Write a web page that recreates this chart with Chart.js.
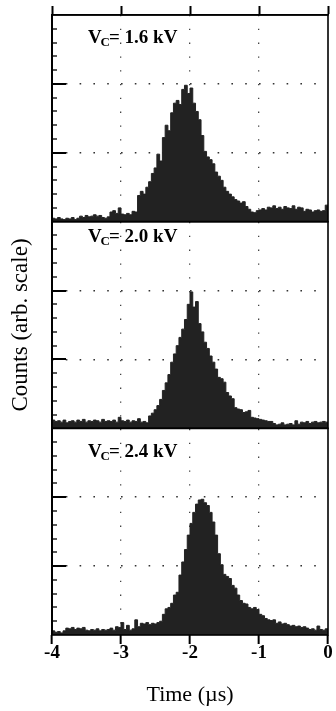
<!DOCTYPE html>
<html>
<head>
<meta charset="utf-8">
<script src="https://cdn.jsdelivr.net/npm/chart.js@4.4.0/dist/chart.umd.min.js"></script>
<style>
    html, body { margin: 0; padding: 0; background: #fff; }
    #wrap { width: 336px; height: 711px; }
</style>
</head>
<body>
<div id="wrap"><canvas id="chart" width="336" height="711"></canvas></div>
<script>
// Histogram bins: 0.04 us wide, from -4 us to 0 us
const binStart = -4;
const binWidth = 0.04;

// Counts (arb. scale), one value per bin
const counts16 = [
    0.05, 0.04, 0.06, 0.04, 0.03, 0.05, 0.04, 0.06, 0.03, 0.05,
    0.08, 0.06, 0.09, 0.07, 0.08, 0.10, 0.08, 0.09, 0.06, 0.05,
    0.07, 0.14, 0.16, 0.12, 0.20, 0.11, 0.10, 0.12, 0.10, 0.15,
    0.14, 0.38, 0.44, 0.40, 0.50, 0.58, 0.70, 0.78, 0.98, 0.88,
    1.22, 1.40, 1.32, 1.58, 1.72, 1.76, 1.70, 1.92, 1.98, 1.86,
    1.94, 1.72, 1.60, 1.48, 1.25, 1.02, 0.94, 0.90, 0.84, 0.72,
    0.66, 0.60, 0.50, 0.44, 0.40, 0.36, 0.32, 0.30, 0.27, 0.29,
    0.22, 0.18, 0.14, 0.13, 0.16, 0.17, 0.19, 0.17, 0.21, 0.20,
    0.23, 0.19, 0.21, 0.18, 0.22, 0.20, 0.19, 0.23, 0.18, 0.21,
    0.20, 0.15, 0.18, 0.17, 0.14, 0.16, 0.17, 0.15, 0.16, 0.24
];
const counts20 = [
    0.12, 0.10, 0.11, 0.09, 0.12, 0.08, 0.10, 0.11, 0.09, 0.12,
    0.10, 0.13, 0.09, 0.11, 0.10, 0.12, 0.11, 0.09, 0.13, 0.10,
    0.11, 0.10, 0.12, 0.09, 0.16, 0.11, 0.10, 0.12, 0.09, 0.11,
    0.10, 0.14, 0.09, 0.10, 0.08, 0.18, 0.22, 0.27, 0.33, 0.42,
    0.55, 0.66, 0.78, 0.96, 1.08, 1.20, 1.32, 1.44, 1.58, 1.80,
    1.98, 1.76, 1.84, 1.52, 1.40, 1.25, 1.16, 1.05, 0.96, 0.86,
    0.74, 0.72, 0.67, 0.52, 0.47, 0.43, 0.30, 0.28, 0.27, 0.23,
    0.24, 0.26, 0.16, 0.15, 0.14, 0.13, 0.12, 0.11, 0.10, 0.10,
    0.07, 0.05, 0.06, 0.08, 0.05, 0.06, 0.07, 0.05, 0.11, 0.06,
    0.09, 0.08, 0.10, 0.07, 0.09, 0.10, 0.08, 0.09, 0.10, 0.09
];
const counts24 = [
    0.06, 0.04, 0.05, 0.03, 0.06, 0.10, 0.09, 0.11, 0.08, 0.10,
    0.09, 0.11, 0.07, 0.06, 0.08, 0.07, 0.09, 0.06, 0.08, 0.07,
    0.08, 0.10, 0.07, 0.12, 0.11, 0.18, 0.08, 0.14, 0.07, 0.09,
    0.22, 0.12, 0.17, 0.16, 0.18, 0.15, 0.17, 0.16, 0.18, 0.20,
    0.30, 0.38, 0.40, 0.46, 0.58, 0.62, 0.87, 1.06, 1.24, 1.45,
    1.62, 1.78, 1.90, 1.96, 1.97, 1.92, 1.88, 1.78, 1.64, 1.45,
    1.18, 1.02, 0.88, 0.85, 0.82, 0.72, 0.68, 0.58, 0.50, 0.46,
    0.45, 0.40, 0.38, 0.40, 0.37, 0.30, 0.28, 0.24, 0.22, 0.21,
    0.22, 0.17, 0.19, 0.16, 0.17, 0.15, 0.13, 0.14, 0.12, 0.13,
    0.11, 0.12, 0.10, 0.08, 0.09, 0.07, 0.13, 0.08, 0.07, 0.09
];

// Panel labels (collector voltage) and where they sit, in data units
const voltages = ["1.6", "2.0", "2.4"];
const labelTime = -3.48;
const labelLevel = [2.59, 2.71, 2.58];

const serif = '"Liberation Serif", "Times New Roman", serif';

// top to bottom
const panels = [
    { id: "y16", values: counts16 },
    { id: "y20", values: counts20 },
    { id: "y24", values: counts24 }
];

function isMajor(v) {
    return Math.abs(v - Math.round(v)) < 1e-6;
}

// bin left edges + closing point, drawn as steps
function toSteps(values) {
    const pts = values.map((v, i) => ({ x: binStart + i * binWidth, y: v }));
    pts.push({ x: binStart + values.length * binWidth, y: values[values.length - 1] });
    return pts;
}

function panelAxis(withTitle) {
    const axis = {
        type: "linear",
        position: "left",
        stack: "panels",
        stackWeight: 1,
        min: 0,
        max: 3,
        ticks: { display: false, stepSize: 0.2 },
        grid: {
            drawTicks: false,
            lineWidth: 1.6,
            color: (c) => (c.tick && isMajor(c.tick.value) && c.tick.value > 0 && c.tick.value < 3) ? "#333" : "rgba(0,0,0,0)"
        },
        border: { display: false, dash: [1.6, 12.2] },
        afterFit: (s) => { s.width = 52; }
    };
    if (withTitle) {
        axis.title = {
            display: true,
            text: "Counts (arb. scale)",
            color: "#000",
            font: { family: serif, size: 23 },
            padding: { top: 7, bottom: 0 }
        };
    }
    return axis;
}

// Inward tick marks, panel frames and the V_C labels
const panelDecor = {
    id: "panelDecor",
    afterDatasetsDraw(chart) {
        const { ctx, chartArea } = chart;
        const xs = chart.scales.x;
        ctx.save();
        ctx.strokeStyle = "#000";
        ctx.fillStyle = "#000";
        panels.forEach((p, k) => {
            const s = chart.scales[p.id];
            s.ticks.forEach((t) => {
                if (t.value < 0.1 || t.value > 2.9) return;
                const major = isMajor(t.value);
                const y = Math.round(s.getPixelForValue(t.value));
                ctx.lineWidth = major ? 2 : 1.3;
                ctx.beginPath();
                ctx.moveTo(chartArea.left, y);
                ctx.lineTo(chartArea.left + (major ? 14 : 5), y);
                ctx.stroke();
            });
            ctx.lineWidth = 1.6;
            ctx.strokeRect(chartArea.left, s.top, chartArea.right - chartArea.left, s.bottom - s.top);

            const x0 = xs.getPixelForValue(labelTime);
            const y0 = s.getPixelForValue(labelLevel[k]);
            ctx.textAlign = "left";
            ctx.textBaseline = "alphabetic";
            ctx.font = "bold 19px " + serif;
            ctx.fillText("V", x0, y0);
            let w = ctx.measureText("V").width;
            ctx.font = "bold 13px " + serif;
            ctx.fillText("C", x0 + w - 1, y0 + 3);
            w += ctx.measureText("C").width - 2;
            ctx.font = "bold 19px " + serif;
            ctx.fillText("= " + voltages[k] + " kV", x0 + w, y0);
        });
        // heavier left axis line
        ctx.lineWidth = 2;
        ctx.beginPath();
        ctx.moveTo(chartArea.left, chartArea.top);
        ctx.lineTo(chartArea.left, chartArea.bottom);
        ctx.stroke();
        ctx.restore();
    }
};

new Chart(document.getElementById("chart"), {
    type: "line",
    data: {
        datasets: panels.map((p) => ({
            data: toSteps(p.values),
            xAxisID: "x",
            yAxisID: p.id,
            stepped: true,
            fill: "origin",
            borderColor: "#222",
            backgroundColor: "#222",
            borderWidth: 1,
            pointRadius: 0
        }))
    },
    options: {
        responsive: false,
        animation: false,
        devicePixelRatio: 1,
        layout: { padding: { left: 0, right: 8, top: 0, bottom: 0 } },
        plugins: { legend: { display: false }, tooltip: { enabled: false } },
        scales: {
            x: {
                type: "linear",
                position: "bottom",
                min: -4,
                max: 0,
                ticks: {
                    stepSize: 1,
                    color: "#000",
                    padding: -2,
                    font: { family: serif, size: 19, weight: "bold" }
                },
                grid: {
                    lineWidth: 1.3,
                    tickLength: 9,
                    tickWidth: 2,
                    tickColor: "#000",
                    color: (c) => (c.tick && c.tick.value > -4 && c.tick.value < 0) ? "#444" : "rgba(0,0,0,0)"
                },
                border: { display: false, dash: [1.3, 12.5] },
                title: {
                    display: true,
                    text: "Time (µs)",
                    color: "#000",
                    font: { family: serif, size: 22 },
                    padding: { top: 0, bottom: 3 }
                },
                afterFit: (s) => { s.height = 76; }
            },
            xTop: {
                type: "linear",
                position: "top",
                min: -4,
                max: 0,
                ticks: { display: false, stepSize: 1 },
                grid: { drawOnChartArea: false, tickLength: 9, tickWidth: 2, tickColor: "#000", color: "#000" },
                border: { display: true, color: "#000", width: 1.6 },
                afterFit: (s) => { s.height = 15; }
            },
            y24: panelAxis(false),
            y20: panelAxis(true),
            y16: panelAxis(false)
        }
    },
    plugins: [panelDecor]
});
</script>
</body>
</html>
